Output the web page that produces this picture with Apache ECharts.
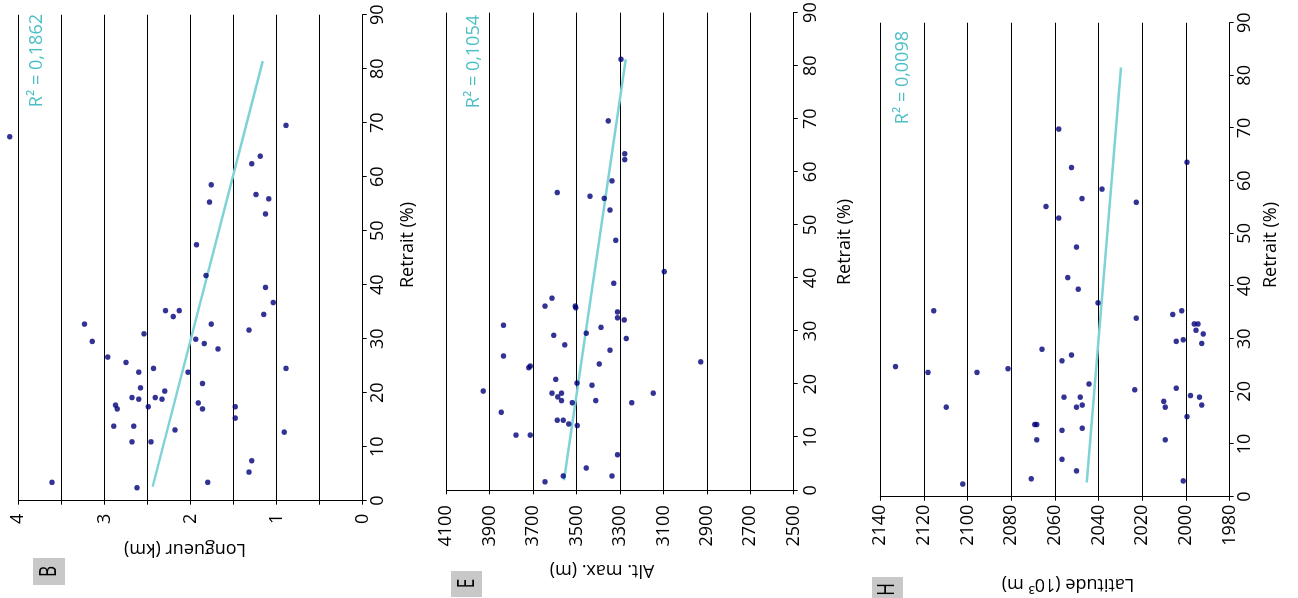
<!DOCTYPE html>
<html><head><meta charset="utf-8">
<script src="https://cdn.jsdelivr.net/npm/echarts@6/dist/echarts.min.js"></script>
<style>
html,body{margin:0;padding:0;background:#fff;overflow:hidden;width:1298px;height:598px;}
#chart{position:absolute;left:0;top:0;width:598px;height:1298px;transform-origin:0 0;transform:translate(0px,598px) rotate(-90deg);}
</style></head><body><div id="chart"></div>
<script>
// Panel B : Longueur (km) vs Retrait (%)
const retraitB = [67.4,69.5,63.8,62.4,58.5,55.3,56.7,55.9,53.1,47.4,41.7,39.5,36.7,34.5,35.2,35.2,34.1,32.7,32.7,31.6,30.9,29.5,29.9,29.1,28.1,26.6,25.6,24.5,24.5,23.8,23.8,21.7,20.9,20.3,19.1,19.1,18.8,18.8,18.1,17.7,17.0,17.4,17.0,17.4,15.3,13.8,13.8,13.1,12.7,10.9,10.9,7.4,5.3,3.4,3.4,2.4];
const longueurB = [4.10,0.89,1.19,1.29,1.76,1.78,1.24,1.09,1.13,1.93,1.82,1.13,1.04,1.15,2.29,2.13,2.20,3.23,1.76,1.32,2.54,3.14,1.94,1.84,1.68,2.96,2.75,2.43,0.89,2.60,2.03,1.86,2.58,2.30,2.68,2.41,2.60,2.33,1.91,2.87,2.85,2.49,1.86,1.48,1.48,2.89,2.66,2.18,0.91,2.68,2.46,1.29,1.32,3.61,1.80,2.62];
const trendRetraitB = [2.6, 81.4];
const trendLongueurB = [2.44, 1.16];

// Panel E : Alt. max. (m) vs Retrait (%)
const retraitE = [81.2,69.6,63.4,62.3,58.3,56.1,55.4,55.0,52.8,47.1,41.2,39.0,36.2,34.7,34.7,34.4,33.6,32.5,32.1,31.1,30.7,29.2,29.6,28.6,27.4,26.4,25.3,24.2,23.8,23.1,23.4,20.9,20.2,19.8,18.7,18.3,18.3,18.3,17.6,16.9,16.9,16.5,16.5,14.7,13.2,13.2,12.5,12.2,10.4,10.4,6.7,4.2,2.7,2.7,1.6];
const altE = [3295,3354,3278,3278,3337,3589,3438,3372,3346,3320,3096,3329,3613,3645,3506,3504,3312,3312,3280,3837,3387,3605,3455,3271,3555,3346,3837,2928,3395,3720,3713,3596,3498,3429,3930,3613,3570,3147,3587,3570,3412,3520,3246,3847,3589,3561,3536,3497,3779,3713,3312,3455,3561,3337,3645];
const trendRetraitE = [1.9, 81.2];
const trendAltE = [3558, 3274];

// Panel H : Latitude (10^3 m) vs Retrait (%)
const retraitH = [69.8,63.5,62.5,58.4,56.6,55.9,55.1,52.9,47.4,41.6,39.4,36.8,35.3,35.3,34.6,33.9,32.8,32.8,31.6,30.9,29.8,29.5,29.1,28.0,26.9,25.8,24.7,24.3,23.6,23.6,21.4,20.6,20.3,19.2,18.9,18.9,18.9,18.1,17.0,17.4,17.0,17.4,17.0,15.2,13.7,13.7,13.0,12.6,10.8,10.8,7.1,4.9,3.4,3.0,2.4];
const latH = [2058.3,1999.6,2052.5,2038.5,2047.6,2022.8,2064.1,2058.3,2050.1,2054.2,2049.3,2040.3,2115.5,2002.0,2006.1,2022.8,1996.2,1994.5,1995.4,1992.1,2001.3,2004.5,1992.8,2066.0,2052.5,2056.8,2133.0,2081.5,2118.2,2095.7,2044.4,2004.5,2023.5,1997.9,2055.9,2048.4,1993.8,2010.2,2050.1,2047.5,2009.5,1992.8,2109.8,1999.6,2069.3,2068.3,2047.5,2056.8,2068.3,2009.5,2056.8,2050.1,2070.9,2001.3,2102.3];
const trendRetraitH = [2.7, 81.5];
const trendLatH = [2045.5, 2029.8];

const panelLetters = ['B', 'E', 'H'];
const r2Labels = ['R\u00B2 = 0,1862', 'R\u00B2 = 0,1054', 'R\u00B2 = 0,0098'];
const xName = 'Retrait (%)';
const yNames = ['Longueur (km)', 'Alt. max. (m)', 'Latitude (10\u00B3 m)'];

const FONT = '"Open Sans", "Noto Sans", sans-serif';
const zip = (a, b) => a.map((v, i) => [v, b[i]]);

function xAxis(gi, nameGap, shift, margin) {
  return {
    gridIndex: gi, type: 'value', min: 0, max: 90, interval: 10,
    name: xName, nameLocation: 'middle', nameGap: nameGap, nameMoveOverlap: false,
    nameTextStyle: { color: '#000', fontSize: 18, fontFamily: FONT, padding: shift >= 0 ? [0, 0, 0, 2 * shift] : [0, -2 * shift, 0, 0] },
    axisLine: { show: true, onZero: false, lineStyle: { color: '#000', width: 1 } },
    axisTick: { show: true, inside: false, length: 4, lineStyle: { color: '#000' } },
    axisLabel: { color: '#000', fontSize: 18, fontFamily: FONT, margin: margin },
    splitLine: { show: false }
  };
}
function yAxis(gi, min, max, interval, name, nameGap, shift, margin, fmt) {
  return {
    gridIndex: gi, type: 'value', min: min, max: max, interval: interval,
    name: name, nameLocation: 'middle', nameGap: nameGap, nameRotate: 90, nameMoveOverlap: false,
    nameTextStyle: { color: '#000', fontSize: 18, fontFamily: FONT, padding: shift >= 0 ? [0, 0, 0, 2 * shift] : [0, -2 * shift, 0, 0] },
    axisLine: { show: true, onZero: false, lineStyle: { color: '#000', width: 1 } },
    axisTick: { show: true, inside: false, length: 4, lineStyle: { color: '#000' } },
    axisLabel: { color: '#000', fontSize: 18, fontFamily: FONT, margin: margin, formatter: fmt },
    splitLine: { show: true, lineStyle: { color: '#000', width: 1 } }
  };
}

const scatterStyle = { color: '#00007a' };
const trendStyle = { color: '#7fd3d6', width: 2.5 };

function scatter(gi, data) {
  return { type: 'scatter', xAxisIndex: gi, yAxisIndex: gi, data: data, symbolSize: 5.5, itemStyle: scatterStyle, clip: false, z: 3, silent: true };
}
function trend(gi, data) {
  return { type: 'line', xAxisIndex: gi, yAxisIndex: gi, data: data, symbol: 'none', lineStyle: trendStyle, z: 2, silent: true };
}

const boxes = [
  { x: 13, y: 33, w: 27, h: 32, cx: 26.5, cy: 49 },
  { x: 1, y: 451, w: 26, h: 31, cx: 14.5, cy: 467 },
  { x: -6, y: 872, w: 27, h: 31, cx: 8.5, cy: 887 }
];
const r2Pos = [ [584, 36.5], [583, 474], [567, 902.5] ];

const graphic = [];
boxes.forEach((b, i) => {
  graphic.push({ type: 'rect', shape: { x: b.x, y: b.y, width: b.w, height: b.h }, style: { fill: '#c8c8c8' } });
  graphic.push({ type: 'text', x: b.cx, y: b.cy, scaleX: 0.75, style: { text: panelLetters[i], font: '23px ' + FONT, fill: '#000', align: 'center', verticalAlign: 'middle' } });
  graphic.push({ type: 'text', x: r2Pos[i][0], y: r2Pos[i][1], style: { text: r2Labels[i], font: '18px ' + FONT, fill: '#4cbfc6', align: 'right', verticalAlign: 'middle' } });
});

const option = {
  animation: false,
  backgroundColor: '#fff',
  grid: [
    { left: 97.3, top: 18.3, width: 486, height: 344.4, containLabel: false, outerBoundsMode: 'none' },
    { left: 107.7, top: 446.3, width: 477.7, height: 347.4, containLabel: false, outerBoundsMode: 'none' },
    { left: 101.3, top: 880.3, width: 474, height: 349.4, containLabel: false, outerBoundsMode: 'none' }
  ],
  xAxis: [ xAxis(0, 36, 12.7, 6), xAxis(1, 42, 9.5, 8), xAxis(2, 32, 14.7, 6) ],
  yAxis: [
    yAxis(0, 0, 4, 0.5, yNames[0], 39, 5.5, 13, v => (Math.abs(v - Math.round(v)) < 1e-9 ? String(Math.round(v)) : '')),
    yAxis(1, 2500, 4100, 200, yNames[1], 71, 18, 15, v => String(v)),
    yAxis(2, 1980, 2140, 20, yNames[2], 78, -13, 8, v => String(v))
  ],
  series: [
    trend(0, zip(trendRetraitB, trendLongueurB)), scatter(0, zip(retraitB, longueurB)),
    trend(1, zip(trendRetraitE, trendAltE)), scatter(1, zip(retraitE, altE)),
    trend(2, zip(trendRetraitH, trendLatH)), scatter(2, zip(retraitH, latH))
  ],
  graphic: graphic
};

const chart = echarts.init(document.getElementById('chart'), null, { renderer: 'canvas', width: 598, height: 1298 });
chart.setOption(option);
</script>
</body></html>
